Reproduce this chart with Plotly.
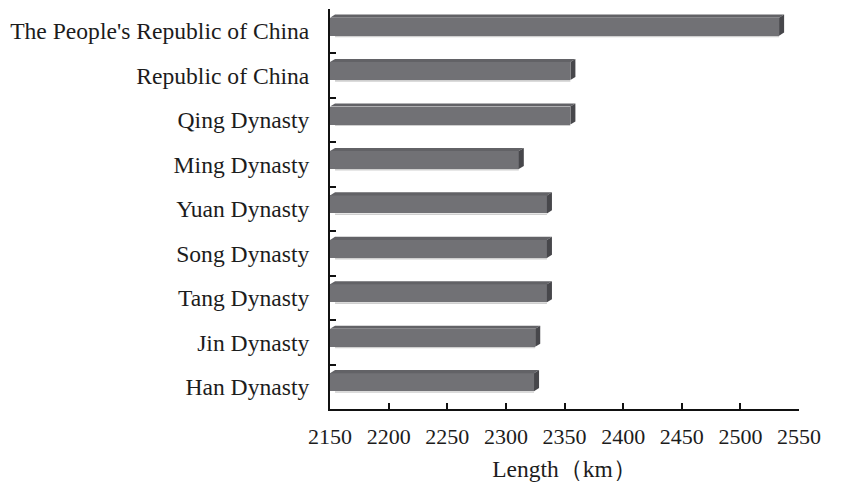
import plotly.graph_objects as go

# Categories listed bottom-to-top (Plotly draws the first category at the bottom)
periods = [
    "Han Dynasty",
    "Jin Dynasty",
    "Tang Dynasty",
    "Song Dynasty",
    "Yuan Dynasty",
    "Ming Dynasty",
    "Qing Dynasty",
    "Republic of China",
    "The People's Republic of China",
]
lengths_km = [2324, 2325, 2335, 2335, 2335, 2311, 2355, 2355, 2533]

axis_start = 2150
axis_end = 2550
tick_values = list(range(2150, 2551, 50))

# bar geometry (category units) and pseudo-3D depth
bar_width = 0.405
bar_offset = -0.1
depth_x = 4.3    # horizontal depth in km units
depth_y = 0.07   # vertical depth in category units
rim_y = 0.035    # light rim under each bar

front_color = "#717175"
top_color = "#626266"
side_color = "#47474b"
rim_color = "#cfcfcf"

fig = go.Figure()
fig.add_trace(go.Bar(
    y=periods,
    x=[v - axis_start for v in lengths_km],
    base=axis_start,
    orientation="h",
    width=bar_width,
    offset=bar_offset,
    marker=dict(color=front_color, line=dict(width=0)),
    hoverinfo="skip",
    showlegend=False,
))

# top and right-side faces give each bar its extruded look
shapes = []
for i, v in enumerate(lengths_km):
    y0 = i + bar_offset
    y1 = y0 + bar_width
    shapes.append(dict(
        type="path", xref="x", yref="y", layer="below",
        path=(f"M {axis_start + depth_x},{y0} L {v},{y0} L {v},{y0 - rim_y} "
              f"L {axis_start + depth_x},{y0 - rim_y} Z"),
        fillcolor=rim_color, line=dict(width=0),
    ))
    shapes.append(dict(
        type="path", xref="x", yref="y", layer="above",
        path=(f"M {axis_start},{y1} L {v},{y1} L {v + depth_x},{y1 + depth_y} "
              f"L {axis_start + depth_x},{y1 + depth_y} Z"),
        fillcolor=top_color, line=dict(width=0),
    ))
    shapes.append(dict(
        type="path", xref="x", yref="y", layer="above",
        path=(f"M {v},{y0} L {v + depth_x},{y0 + depth_y} "
              f"L {v + depth_x},{y1 + depth_y} L {v},{y1} Z"),
        fillcolor=side_color, line=dict(width=0),
    ))

font_family = "Liberation Serif, Times New Roman, serif"
text_color = "#1c1c1c"

fig.update_layout(
    width=842,
    height=495,
    margin=dict(l=330, r=43, t=9, b=86),
    paper_bgcolor="white",
    plot_bgcolor="white",
    shapes=shapes,
    bargap=0,
    font=dict(family=font_family, size=22, color=text_color),
    xaxis=dict(
        range=[axis_start, axis_end],
        tickvals=tick_values,
        ticks="inside",
        ticklen=6,
        tickwidth=2,
        tickcolor="#111111",
        showline=True,
        linecolor="#111111",
        linewidth=2,
        showgrid=False,
        zeroline=False,
        tickfont=dict(family=font_family, size=22, color=text_color),
        ticklabelstandoff=7,
        title=dict(
            text="Length（km）",
            font=dict(family=font_family, size=23.5, color=text_color),
            standoff=12,
        ),
    ),
    yaxis=dict(
        type="category",
        categoryorder="array",
        categoryarray=periods,
        range=[-0.5, len(periods) - 0.5],
        ticks="inside",
        tickson="boundaries",
        ticklen=6,
        tickwidth=2,
        tickcolor="#111111",
        showline=True,
        linecolor="#111111",
        linewidth=2,
        showgrid=False,
        zeroline=False,
        tickfont=dict(family=font_family, size=23.6, color=text_color),
        ticklabelstandoff=14,
    ),
)

fig.write_html("out.html")
